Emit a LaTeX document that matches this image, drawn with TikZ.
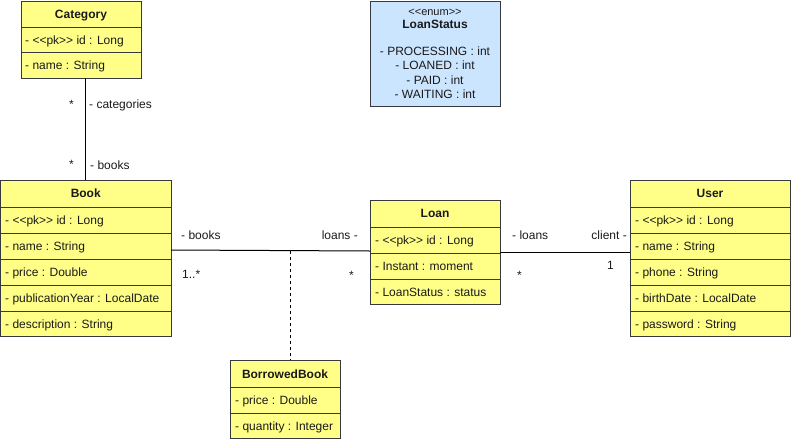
\documentclass[tikz,border=0pt]{standalone}
\usepackage{fontspec}
\setmainfont{Liberation Sans}[Ligatures=TeXOff]
\definecolor{yel}{HTML}{FFFF88}
\definecolor{blu}{HTML}{CCE5FF}
\definecolor{bord}{HTML}{36393D}
\definecolor{txt}{HTML}{1A1A1A}
\begin{document}
\begin{tikzpicture}[x=1pt,y=-1pt,
  box/.style={draw=bord, line width=1pt, fill=yel, inner sep=0pt, outer sep=0pt, anchor=north west},
  enumbox/.style={box, fill=blu},
  ttl/.style={font=\fontsize{12}{14}\selectfont\bfseries, text=txt, inner sep=0pt, anchor=base},
  attr/.style={font=\fontsize{12}{14}\selectfont, text=txt, inner sep=0pt, anchor=base west},
  ctr/.style={font=\fontsize{12}{14}\selectfont, text=txt, inner sep=0pt, anchor=base},
  small/.style={font=\fontsize{11}{12}\selectfont, text=txt, inner sep=0pt, anchor=base},
  sep/.style={draw=bord, line width=1pt},
  lbl/.style={font=\fontsize{12}{14}\selectfont, text=txt, inner sep=0pt, anchor=base west},
  lblr/.style={lbl, anchor=base east},
  conn/.style={draw=black, line width=1pt},
  dep/.style={draw=black, line width=1pt, dashed, dash pattern=on 3pt off 3pt}]
\useasboundingbox (0,0) rectangle (791,442);

% Category
\node[box, minimum width=120pt, minimum height=77pt] (category) at (21,1) {};
\draw[sep] (21,27) -- (141,27);
\draw[sep] (21,52) -- (141,52);
\node[ttl] (category-t) at (81,18) {Category};
\node[attr] (category-a1) at (25,44) {- <<pk>> id : Long};
\node[attr] (category-a2) at (25,69) {- name : String};

% LoanStatus
\node[enumbox, minimum width=130pt, minimum height=105pt] (loanstatus) at (370,1) {};
\node[small] (ls-s) at (435,15) {<<enum>>};
\node[ttl] (ls-t) at (435,28.5) {LoanStatus};
\node[ctr] (ls-1) at (435,55) {- PROCESSING : int};
\node[ctr] (ls-2) at (435,69.5) {- LOANED : int};
\node[ctr] (ls-3) at (435,84) {- PAID : int};
\node[ctr] (ls-4) at (435,98.5) {- WAITING : int};

% Book
\node[box, minimum width=170.5pt, minimum height=156pt] (book) at (0.5,180) {};
\foreach \yy in {207,233,259,285,311} \draw[sep] (0.5,\yy) -- (171,\yy);
\node[ttl] (book-t) at (85.75,197.5) {Book};
\node[attr] (book-a1) at (5,224) {- <<pk>> id : Long};
\node[attr] (book-a2) at (5,250) {- name : String};
\node[attr] (book-a3) at (5,276) {- price : Double};
\node[attr] (book-a4) at (5,302) {- publicationYear : LocalDate};
\node[attr] (book-a5) at (5,328) {- description : String};

% Loan
\node[box, minimum width=130pt, minimum height=104pt] (loan) at (370,200) {};
\foreach \yy in {227,253,279} \draw[sep] (370,\yy) -- (500,\yy);
\node[ttl] (loan-t) at (435,217.5) {Loan};
\node[attr] (loan-a1) at (375,244) {- <<pk>> id : Long};
\node[attr] (loan-a2) at (375,270) {- Instant : moment};
\node[attr] (loan-a3) at (375,296) {- LoanStatus : status};

% User
\node[box, minimum width=160pt, minimum height=156pt] (user) at (630,180) {};
\foreach \yy in {207,233,259,285,311} \draw[sep] (630,\yy) -- (790,\yy);
\node[ttl] (user-t) at (710,197.5) {User};
\node[attr] (user-a1) at (635,224) {- <<pk>> id : Long};
\node[attr] (user-a2) at (635,250) {- name : String};
\node[attr] (user-a3) at (635,276) {- phone : String};
\node[attr] (user-a4) at (635,302) {- birthDate : LocalDate};
\node[attr] (user-a5) at (635,328) {- password : String};

% BorrowedBook
\node[box, minimum width=110pt, minimum height=78pt] (borrowed) at (230,360) {};
\draw[sep] (230,387) -- (340,387);
\draw[sep] (230,413) -- (340,413);
\node[ttl] (borrowed-t) at (285,378) {BorrowedBook};
\node[attr] (borrowed-a1) at (235,404) {- price : Double};
\node[attr] (borrowed-a2) at (235,430) {- quantity : Integer};

% connectors
\draw[conn] (book.north) -- (book.north |- category.south);
\coordinate (bl-l) at (171,250);
\coordinate (bl-r) at (370,251);
\draw[conn] (bl-l) -- (bl-r);
\coordinate (mid) at (290,250.5);
\draw[dep] (mid) -- (mid |- borrowed.north);
\draw[conn] (loan.east |- 0,252) -- (user.west |- 0,252);

% labels
\node[lblr] (l1) at (74,108.5) {*};
\node[lbl] (l2) at (89,108) {- categories};
\node[lblr] (l3) at (74,168.5) {*};
\node[lbl] (l4) at (90,169) {- books};
\node[lbl] (l5) at (181,239.5) {- books};
\node[lbl] (l6) at (182,278) {1..*};
\node[lblr] (l7) at (358,239.5) {loans -};
\node[lblr] (l8) at (354,279) {*};
\node[lbl] (l9) at (512,239.5) {- loans};
\node[lblr] (l10) at (627,239.5) {client -};
\node[lbl] (l11) at (517,279) {*};
\node[lbl] (l12) at (607,269) {1};
\end{tikzpicture}
\end{document}
